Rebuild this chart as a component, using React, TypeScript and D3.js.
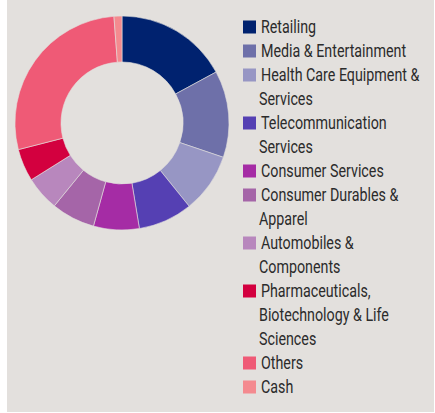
import React, { useEffect, useRef, useState } from "react";
import * as d3 from "d3";

const categories = [
  "Retailing",
  "Media & Entertainment",
  "Health Care Equipment & Services",
  "Telecommunication Services",
  "Consumer Services",
  "Consumer Durables & Apparel",
  "Automobiles & Components",
  "Pharmaceuticals, Biotechnology & Life Sciences",
  "Others",
  "Cash",
];
const values = [17.1, 13.1, 9.0, 8.2, 6.9, 6.6, 5.2, 4.9, 27.8, 1.2];
const legendLines = [
  ["Retailing"],
  ["Media & Entertainment"],
  ["Health Care Equipment &", "Services"],
  ["Telecommunication", "Services"],
  ["Consumer Services"],
  ["Consumer Durables &", "Apparel"],
  ["Automobiles &", "Components"],
  ["Pharmaceuticals,", "Biotechnology & Life", "Sciences"],
  ["Others"],
  ["Cash"],
];
const colors = [
  "#00226f",
  "#6e70a9",
  "#9796c4",
  "#5540b3",
  "#a52ca5",
  "#a565a8",
  "#b887bd",
  "#d3003f",
  "#ef5a76",
  "#f48a8f",
];

export default function App() {
  const W = 435;
  const H = 413;
  const cx = 122;
  const cy = 123;
  const pie = d3
    .pie<number>()
    .sort(null)
    .value((d) => d)(values);
  const arc = d3.arc<d3.PieArcDatum<number>>().innerRadius(61).outerRadius(107);
  const color = d3.scaleOrdinal<number, string>().domain(d3.range(categories.length)).range(colors);

  const refText = useRef<SVGTextElement | null>(null);
  const [sx, setSx] = useState(0.8);
  useEffect(() => {
    if (refText.current) {
      const w = refText.current.getComputedTextLength();
      if (w > 0) setSx(145 / w);
    }
  }, []);

  let line = 0;
  const lineH = 24;
  const y0 = 27;
  const font = "Roboto, 'Noto Sans', sans-serif";

  return (
    <svg
      width={W}
      height={H}
      style={{ position: "absolute", left: 0, top: 0, display: "block" }}
    >
      <rect x={0} y={0} width={W} height={H} fill="#ffffff" />
      <rect x={7} y={0} width={427} height={412} fill="#e3e0dd" />
      <g transform={`translate(${cx},${cy})`}>
        {pie.map((p, i) => (
          <path key={i} d={arc(p) || ""} fill={color(i)} stroke="#e3e0dd" strokeWidth={0.6} />
        ))}
      </g>
      <g>
        {legendLines.map((lines, i) => {
          const start = line;
          line += lines.length;
          return (
            <g key={i}>
              <rect x={243} y={y0 + start * lineH - 6.5} width={13} height={13} fill={color(i)} />
              {lines.map((t, j) => (
                <text
                  key={j}
                  ref={i === 1 && j === 0 ? refText : undefined}
                  transform={`translate(${j === 0 ? 261 : 259},${y0 + (start + j) * lineH}) scale(${sx},1)`}
                  dy="0.36em"
                  fontFamily={font}
                  fontSize={18}
                  fill="#2b2b2b"
                >
                  {t}
                </text>
              ))}
            </g>
          );
        })}
      </g>
    </svg>
  );
}
